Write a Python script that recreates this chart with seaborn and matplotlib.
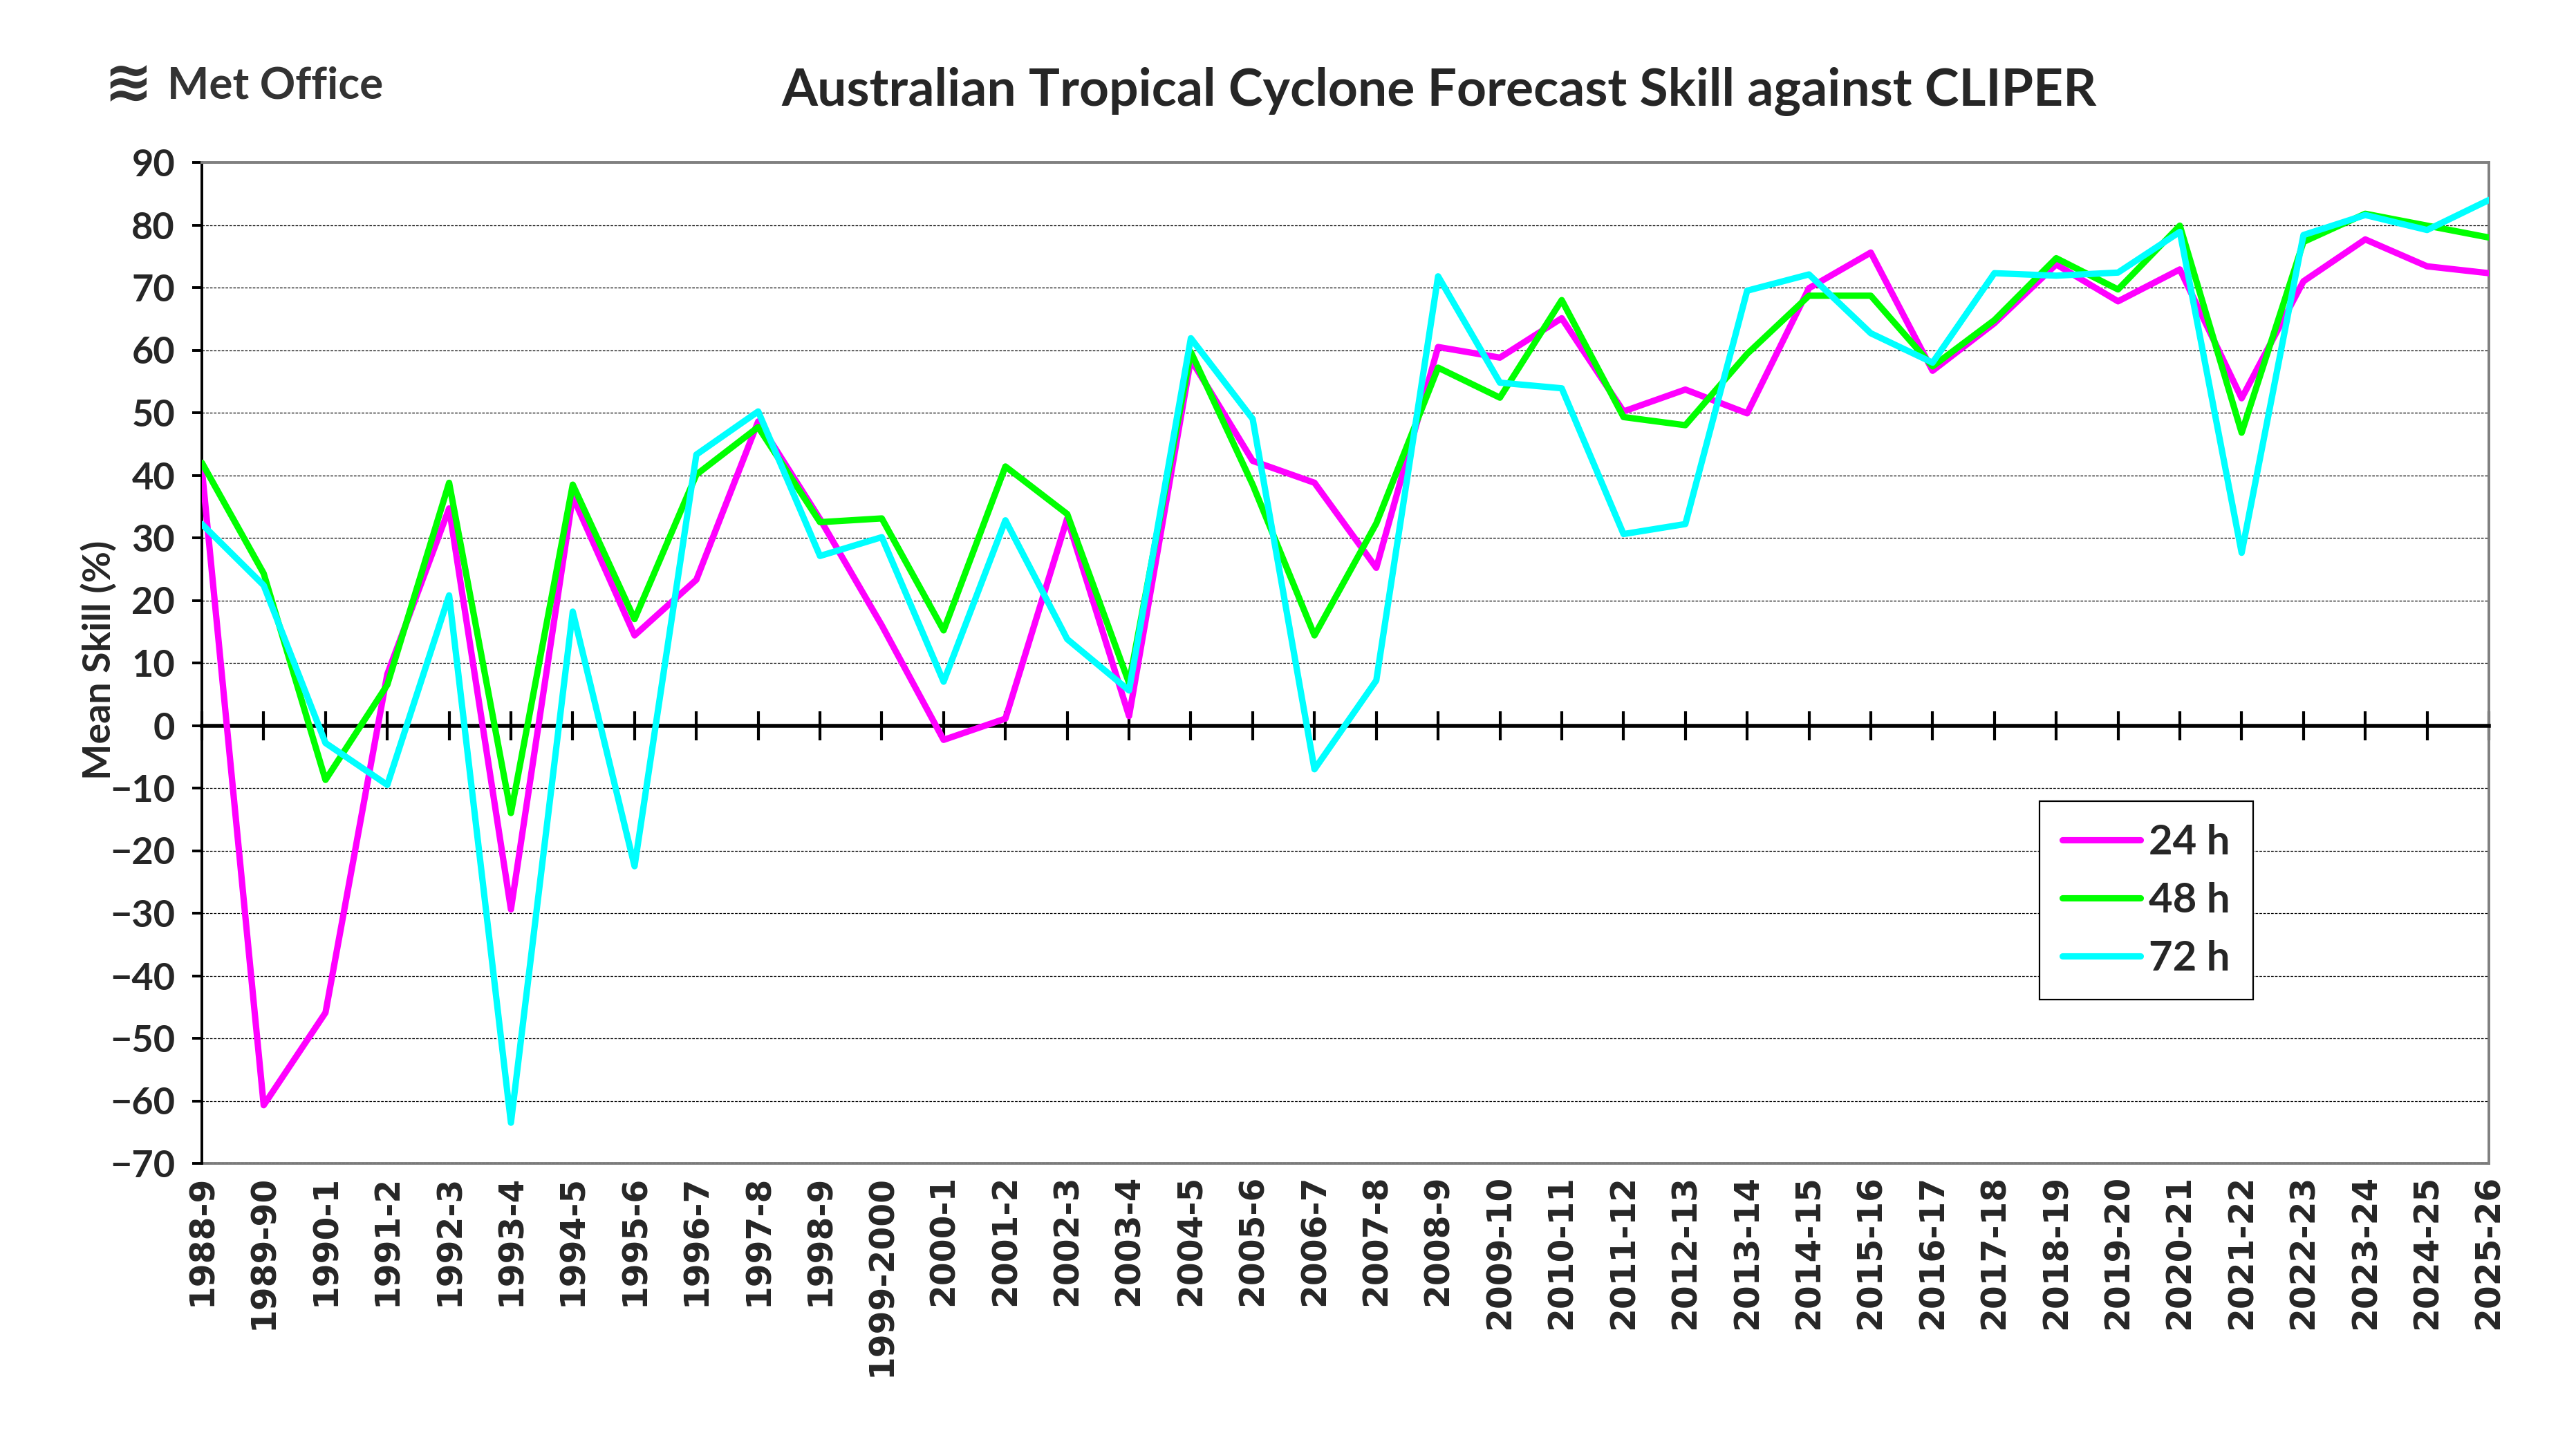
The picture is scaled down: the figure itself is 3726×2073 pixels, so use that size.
import numpy as np
import pandas as pd
import matplotlib
matplotlib.use("Agg")
import matplotlib.pyplot as plt
import seaborn as sns

# ---------------- data ----------------
seasons = ["1988-9", "1989-90", "1990-1", "1991-2", "1992-3", "1993-4", "1994-5",
           "1995-6", "1996-7", "1997-8", "1998-9", "1999-2000", "2000-1", "2001-2",
           "2002-3", "2003-4", "2004-5", "2005-6", "2006-7", "2007-8", "2008-9",
           "2009-10", "2010-11", "2011-12", "2012-13", "2013-14", "2014-15",
           "2015-16", "2016-17", "2017-18", "2018-19", "2019-20", "2020-21",
           "2021-22", "2022-23", "2023-24", "2024-25", "2025-26"]
skill_24h = [41.0, -60.7, -45.9, 8.2, 34.7, -29.4, 36.6, 14.4, 23.3, 48.6,
             33.0, 16.0, -2.3, 1.1, 33.1, 1.5, 58.5, 42.3, 38.8, 25.2,
             60.5, 58.8, 65.1, 50.2, 53.7, 49.9, 69.9, 75.6, 56.7, 64.3,
             73.7, 67.8, 72.9, 52.3, 71.0, 77.7, 73.4, 72.3]
skill_48h = [42.0, 24.3, -8.7, 6.5, 38.8, -14.0, 38.5, 17.0, 40.1, 47.7,
             32.5, 33.1, 15.2, 41.4, 33.8, 6.8, 59.7, 38.5, 14.4, 32.3,
             57.2, 52.4, 68.0, 49.3, 48.0, 59.4, 68.7, 68.7, 57.4, 64.8,
             74.7, 69.7, 79.9, 46.8, 77.3, 81.8, 79.9, 78.0]
skill_72h = [32.2, 22.4, -2.8, -9.5, 20.8, -63.5, 18.2, -22.5, 43.3, 50.2,
             27.1, 30.1, 7.0, 32.8, 13.8, 5.6, 61.9, 49.0, -7.0, 7.2,
             71.8, 54.8, 53.9, 30.6, 32.2, 69.5, 72.1, 62.7, 58.0, 72.3,
             71.9, 72.4, 78.9, 27.6, 78.4, 81.6, 79.2, 84.0]
lead_labels = ["24 h", "48 h", "72 h"]
lead_colors = ["#FF00FF", "#00FF00", "#00FFFF"]
y_ticks = list(range(-70, 91, 10))

title_text = "Australian Tropical Cyclone Forecast Skill against CLIPER"
ylabel_text = "Mean Skill (%)"

# ---------------- figure ----------------
sns.set_theme(style="white")
plt.rcParams["font.family"] = ["Lato", "DejaVu Sans"]

W, H, DPI = 3726, 2073, 200
fig = plt.figure(figsize=(W / DPI, H / DPI), dpi=DPI)
L, R, T, B = 292, 3600, 235, 1683
ax = fig.add_axes([L / W, 1 - B / H, (R - L) / W, (B - T) / H])

pos = np.arange(len(seasons))
df = pd.DataFrame({"pos": pos, "24 h": skill_24h, "48 h": skill_48h, "72 h": skill_72h})
long = df.melt(id_vars="pos", var_name="lead", value_name="skill")

sns.lineplot(data=long, x="pos", y="skill", hue="lead", hue_order=lead_labels,
             palette=dict(zip(lead_labels, lead_colors)), sort=False,
             linewidth=3.3, ax=ax, legend=True, zorder=3)

ax.set_xlim(pos[0], pos[-1])
ax.set_ylim(y_ticks[0], y_ticks[-1])
ax.set_yticks(y_ticks)
ax.set_xlabel("")
ax.set_ylabel("")

# gridlines (dashed, thin black)
ax.yaxis.grid(True, color="black", linestyle=(0, (3, 1.5)), linewidth=0.45)
ax.xaxis.grid(False)
ax.set_axisbelow(True)

# spines
for s in ["top", "right"]:
    ax.spines[s].set_color("#808080")
    ax.spines[s].set_linewidth(1.4)
ax.spines["left"].set_color("black")
ax.spines["left"].set_linewidth(1.4)
ax.spines["bottom"].set_position(("data", 0))
ax.spines["bottom"].set_color("black")
ax.spines["bottom"].set_linewidth(2.0)
ax.spines["bottom"].set_zorder(2.5)

ax.set_xticks(pos)
ax.tick_params(axis="x", direction="inout", length=15, width=1.5, color="black",
               labelbottom=False, bottom=True)
ax.tick_params(axis="y", direction="out", length=5, width=1.4, color="black",
               left=True, pad=9, labelsize=19.5)
for lab in ax.get_yticklabels():
    lab.set_fontweight("bold")

# category labels along the bottom of the plot
sec = ax.secondary_xaxis("bottom")
sec.set_xticks(pos)
sec.set_xticklabels(seasons, rotation=90, fontsize=17.5, fontweight="bold",
                    family=["DejaVu Sans"], va="top")
sec.tick_params(axis="x", length=0, pad=6)
sec.spines["bottom"].set_color("#808080")
sec.spines["bottom"].set_linewidth(1.4)

# legend
handles, labels = ax.get_legend_handles_labels()
for h in handles:
    h.set_linewidth(3.3)
    h.set_solid_capstyle("round")
leg = ax.legend(handles, labels, loc="upper left",
                bbox_to_anchor=((2950 - L) / (R - L), 1 - (1159 - T) / (B - T)),
                borderaxespad=0, frameon=True, fancybox=False,
                prop={"weight": "bold", "size": 21.5},
                handlelength=1.9, handletextpad=0.2, labelspacing=0.5,
                borderpad=0.55)
leg.get_frame().set_edgecolor("black")
leg.get_frame().set_linewidth(0.8)
leg.get_frame().set_facecolor("white")
leg.get_frame().set_alpha(1)

# title and y label
fig.text(2082 / W, 1 - 133 / H, title_text, ha="center", va="center",
         fontsize=27, fontweight="bold")
fig.text(143 / W, 1 - 955 / H, ylabel_text, ha="center", va="center",
         rotation=90, fontsize=20, fontweight="bold")

# Met Office wordmark
fig.text(150 / W, 1 - 122 / H, "\u224B", ha="left", va="center",
         fontsize=30, color="#333333", family=["DejaVu Sans"], fontweight="bold")
fig.text(242 / W, 1 - 124 / H, "Met Office", ha="left", va="center",
         fontsize=23, color="#333333", fontweight="bold")

fig.savefig("out.png", dpi=DPI, facecolor="white")
